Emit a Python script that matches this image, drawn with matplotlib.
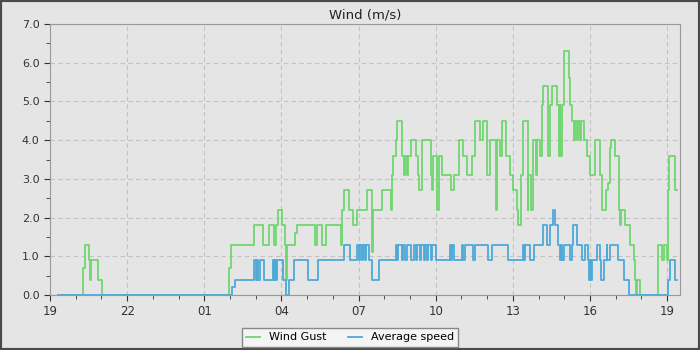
import numpy as np
import matplotlib
matplotlib.use('Agg')
import matplotlib.pyplot as plt
from matplotlib.ticker import MultipleLocator, FuncFormatter

START_HOUR = 19

# hours since 19:00, value holds until the next time (step data, m/s)
gust_t = [0.31, 1.30, 1.36, 1.53, 1.56, 1.60, 1.88, 2.02,
          6.98, 7.04, 7.95, 8.30, 8.53, 8.72, 8.77, 8.87, 9.03, 9.12, 9.16, 9.20,
          9.53, 9.61, 10.31, 10.37, 10.57, 10.73, 11.32, 11.35, 11.44, 11.63, 11.78,
          11.95, 12.33, 12.53, 12.57, 12.91, 13.26, 13.29, 13.33, 13.45, 13.49,
          13.68, 13.75, 13.81, 13.87, 13.93, 14.04, 14.23, 14.31, 14.34, 14.46,
          14.82, 14.86, 14.90, 15.04, 15.11, 15.24, 15.60, 15.72, 15.89, 16.08,
          16.21, 16.41, 16.54, 16.73, 16.85, 16.99, 17.12, 17.34, 17.37, 17.51,
          17.59, 17.74, 17.90, 18.00, 18.16, 18.21, 18.31, 18.39, 18.57, 18.60,
          18.70, 18.77, 18.78, 18.91, 18.95, 19.07, 19.14, 19.19, 19.37, 19.46,
          19.52, 19.73, 19.79, 19.82, 19.84, 19.90, 19.97, 20.17, 20.21, 20.30,
          20.39, 20.43, 20.51, 20.54, 20.62, 20.66, 20.75, 20.88, 21.01, 21.21,
          21.40, 21.47, 21.62, 21.70, 21.76, 21.79, 21.83, 21.98, 22.14, 22.18,
          22.22, 22.37, 22.57, 22.70, 22.76, 22.79, 22.82, 22.93, 23.65, 23.80,
          23.86, 24.00, 24.04, 24.06, 24.32, 24.38]
gust_v = [0, 0.7, 1.3, 0.9, 0.4, 0.9, 0.4, 0,
          0.7, 1.3, 1.8, 1.3, 1.8, 1.3, 1.8, 2.2, 1.8, 1.3, 0.4, 1.3,
          1.6, 1.8, 1.3, 1.8, 1.3, 1.8, 1.3, 2.2, 2.7, 2.2, 1.8,
          2.2, 2.7, 1.1, 2.2, 2.7, 2.2, 3.1, 3.6, 4.0, 4.5,
          3.6, 3.1, 3.6, 3.1, 3.6, 4.0, 3.6, 3.1, 2.7, 4.0,
          3.1, 2.7, 3.6, 2.2, 3.6, 3.1, 2.7, 3.1, 4.0, 3.6,
          3.1, 3.6, 4.5, 4.0, 4.5, 3.1, 4.0, 2.2, 4.0, 3.6,
          4.5, 3.6, 3.1, 2.7, 2.2, 1.8, 3.1, 4.5, 2.2, 3.1,
          2.2, 3.1, 4.0, 3.1, 4.0, 3.6, 4.9, 5.4, 3.6, 4.9,
          5.4, 4.9, 3.6, 4.9, 3.6, 4.9, 6.3, 5.6, 4.9, 4.5,
          4.0, 4.5, 4.0, 4.5, 4.0, 4.5, 4.0, 3.6, 3.1, 4.0,
          3.1, 2.2, 2.7, 2.9, 3.3, 3.8, 4.0, 3.6, 2.2, 1.8,
          2.2, 1.8, 1.3, 0.9, 0.4, 0, 0.4, 0, 1.3, 0.9,
          1.3, 0.9, 2.7, 3.6, 2.7, 2.7]

avg_t = [0.31, 7.09, 7.20, 7.94, 8.00, 8.04, 8.09, 8.17, 8.33, 8.67, 8.72, 8.75,
         8.79, 8.83, 9.07, 9.17, 9.30, 9.47, 10.05, 10.44, 11.45, 11.67, 11.93,
         12.02, 12.06, 12.14, 12.18, 12.26, 12.30, 12.41, 12.54, 12.80, 13.46,
         13.50, 13.54, 13.70, 13.74, 13.81, 13.89, 14.05, 14.16, 14.24, 14.28,
         14.40, 14.44, 14.55, 14.59, 14.67, 14.71, 14.82, 14.86, 15.02, 15.55,
         15.60, 15.64, 15.72, 16.02, 16.07, 16.13, 16.45, 16.54, 17.05, 17.19,
         17.83, 18.39, 18.44, 18.48, 18.68, 18.81, 19.17, 19.33, 19.46, 19.56,
         19.65, 19.74, 19.84, 19.88, 19.92, 19.97, 20.21, 20.30, 20.34, 20.49,
         20.69, 20.82, 20.91, 20.95, 21.01, 21.05, 21.09, 21.27, 21.40, 21.44,
         21.53, 21.66, 21.68, 21.79, 22.09, 22.31, 22.50, 24.02, 24.12, 24.32,
         24.40]
avg_v = [0, 0.2, 0.4, 0.9, 0.4, 0.9, 0.4, 0.9, 0.4, 0.9, 0.4, 0.9,
         0.4, 0.9, 0.4, 0, 0.4, 0.9, 0.4, 0.9, 1.3, 0.9, 1.3,
         0.9, 1.3, 0.9, 1.3, 0.9, 1.3, 0.9, 0.4, 0.9, 1.3,
         0.9, 1.3, 0.9, 1.3, 0.9, 1.3, 0.9, 1.3, 0.9, 1.3,
         0.9, 1.3, 0.9, 1.3, 0.9, 1.3, 0.9, 1.3, 0.9, 1.3,
         0.9, 1.3, 0.9, 1.3, 0.9, 1.3, 0.9, 1.3, 0.9, 1.3,
         0.9, 1.3, 0.9, 1.3, 0.9, 1.3, 1.8, 1.3, 1.8, 2.2,
         1.8, 1.3, 0.9, 1.3, 0.9, 1.3, 0.9, 1.3, 1.8, 1.3,
         0.9, 1.3, 0.9, 0.4, 0.9, 0.4, 0.9, 1.3, 0.9, 0.4,
         0.9, 1.3, 0.9, 1.3, 0.9, 0.4, 0, 0.4, 0.9, 0.4,
         0.4]

BG = '#e5e5e5'

fig = plt.figure(figsize=(7, 3.5), dpi=100, facecolor=BG)
fig.patches.append(plt.Rectangle((0, 0), 1, 1, transform=fig.transFigure,
                                 fill=False, edgecolor='#4a4a4a', linewidth=3))
ax = fig.add_axes([50 / 700, 1 - 295 / 350, 630 / 700, 271 / 350])
ax.set_facecolor(BG)

ax.plot(gust_t, gust_v, drawstyle='steps-post', color='#6fd66f', lw=1.3,
        label='Wind Gust')
ax.plot(avg_t, avg_v, drawstyle='steps-post', color='#4ea9d9', lw=1.3,
        label='Average speed')

ax.set_xlim(0, 24.5)
ax.set_ylim(0, 7)
ax.xaxis.set_major_locator(MultipleLocator(3))
ax.xaxis.set_minor_locator(MultipleLocator(1))
ax.yaxis.set_major_locator(MultipleLocator(1))
ax.yaxis.set_minor_locator(MultipleLocator(0.5))
ax.xaxis.set_major_formatter(FuncFormatter(lambda h, p: '%02d' % ((START_HOUR + int(round(h))) % 24)))
ax.yaxis.set_major_formatter(FuncFormatter(lambda v, p: '%.1f' % v))
ax.tick_params(which='both', direction='out', colors='#333333', labelsize=8)
ax.tick_params(which='major', length=4)
ax.tick_params(which='minor', length=3)
ax.tick_params(axis='x', labelsize=8.5)
for s in ax.spines.values():
    s.set_color('#999999')
ax.grid(True, which='major', color='#c2c2c2', linestyle=(0, (4, 3)), linewidth=0.8)
ax.set_axisbelow(True)

ax.set_title('Wind (m/s)', fontsize=9.5, color='#222222', pad=4)

fig.legend(loc='center', bbox_to_anchor=(0.5, 1 - 337.5 / 350), ncol=2,
           fontsize=8, fancybox=False, edgecolor='#888888', facecolor='#f4f4f4',
           framealpha=1, handlelength=1.2, columnspacing=2.0, borderpad=0.4)

fig.savefig('out.png', dpi=100, facecolor=BG)
